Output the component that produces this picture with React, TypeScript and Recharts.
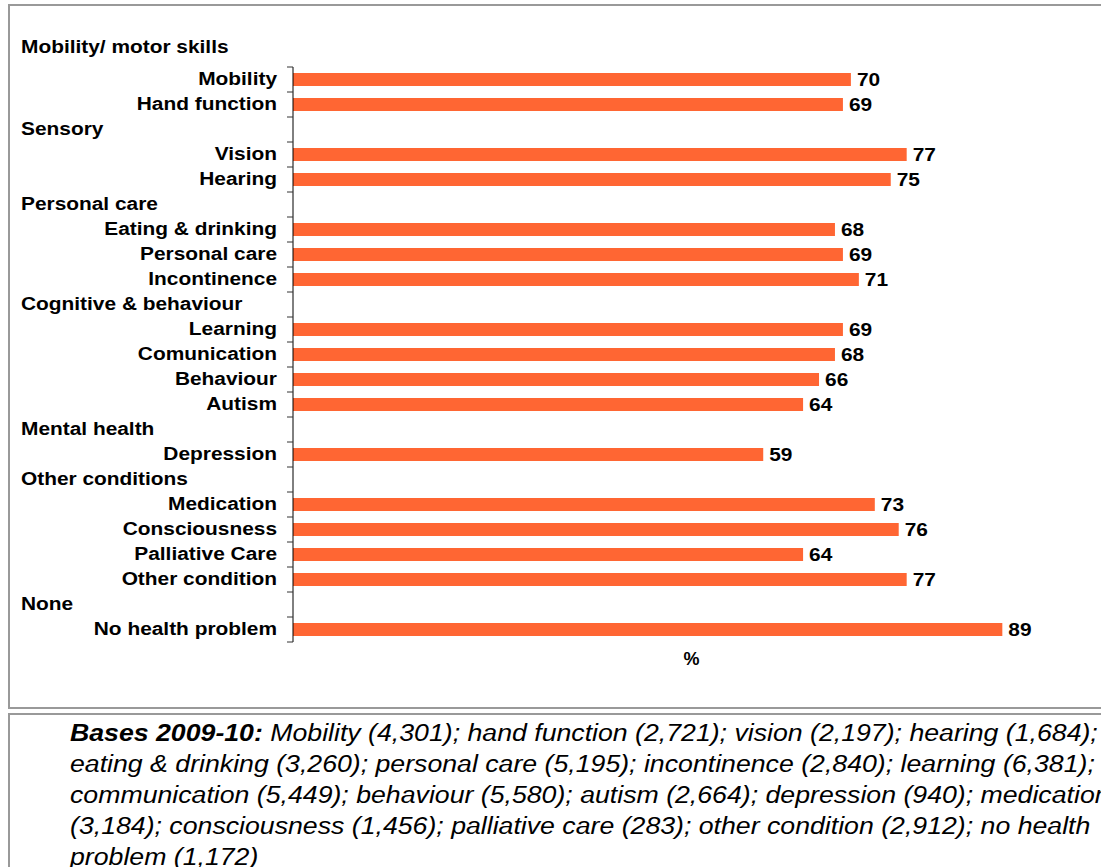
import { BarChart, Bar, XAxis, YAxis, LabelList } from "recharts";

const topHeader = "Mobility/ motor skills";

// one row per band on the axis; rows with a null value are the group headings
const labels = [
  "Mobility",
  "Hand function",
  "Sensory",
  "Vision",
  "Hearing",
  "Personal care",
  "Eating & drinking",
  "Personal care",
  "Incontinence",
  "Cognitive & behaviour",
  "Learning",
  "Comunication",
  "Behaviour",
  "Autism",
  "Mental health",
  "Depression",
  "Other conditions",
  "Medication",
  "Consciousness",
  "Palliative Care",
  "Other condition",
  "None",
  "No health problem",
];

const values: (number | null)[] = [
  70, 69, null, 77, 75, null, 68, 69, 71, null, 69, 68, 66, 64, null, 59, null, 73, 76, 64, 77, null, 89,
];

const footnoteLines = [
  "Mobility (4,301); hand function (2,721); vision (2,197); hearing (1,684);",
  "eating & drinking (3,260); personal care (5,195); incontinence (2,840); learning (6,381);",
  "communication (5,449); behaviour (5,580); autism (2,664); depression (940); medication",
  "(3,184); consciousness (1,456); palliative care (283); other condition (2,912); no health",
  "problem (1,172)",
];

const data = labels.map((name, i) => ({ name, value: values[i] }));

const FONT = "'Liberation Sans', Arial, sans-serif";
const AXIS_X = 285;
const STRETCH = 1.16;

function CategoryTick(props: any) {
  const { y, index } = props;
  const isHeader = values[index] == null;
  const label = labels[index];
  return (
    <g>
      <line x1={AXIS_X - 6} x2={AXIS_X} y1={y - 12.5} y2={y - 12.5} stroke="#333" />
      {index === labels.length - 1 && (
        <line x1={AXIS_X - 6} x2={AXIS_X} y1={y + 12.5} y2={y + 12.5} stroke="#333" />
      )}
      {index === 0 && (
        <text
          transform={`translate(13,${y - 33}) scale(${STRETCH},1)`}
          dy="0.36em"
          fontFamily={FONT}
          fontWeight="bold"
          fontSize={18}
          fill="#000"
        >
          {topHeader}
        </text>
      )}
      {isHeader ? (
        <text
          transform={`translate(13,${y - 1}) scale(${STRETCH},1)`}
          dy="0.36em"
          fontFamily={FONT}
          fontWeight="bold"
          fontSize={18}
          fill="#000"
        >
          {label}
        </text>
      ) : (
        <text
          transform={`translate(269,${y - 1}) scale(${STRETCH},1)`}
          dy="0.36em"
          textAnchor="end"
          fontFamily={FONT}
          fontWeight="bold"
          fontSize={18}
          fill="#000"
        >
          {label}
        </text>
      )}
    </g>
  );
}

function ValueLabel(props: any) {
  const { x, y, width, height, value } = props;
  if (value == null) return null;
  return (
    <text
      transform={`translate(${x + width + 6},${y + height / 2}) scale(${STRETCH},1)`}
      dy="0.36em"
      fontFamily={FONT}
      fontWeight="bold"
      fontSize={18}
      fill="#000"
    >
      {value}
    </text>
  );
}

export default function App() {
  return (
    <div
      style={{
        position: "fixed",
        left: 8,
        top: 4,
        width: 1093,
        height: 863,
        overflow: "hidden",
        fontFamily: FONT,
        background: "#fff",
      }}
    >
      <div
        style={{
          position: "absolute",
          left: 0,
          top: 0,
          width: 1110,
          height: 705,
          border: "2px solid #999",
          boxSizing: "border-box",
        }}
      />
      <div
        style={{
          position: "absolute",
          left: 0,
          top: 709,
          width: 1110,
          height: 200,
          border: "2px solid #999",
          boxSizing: "border-box",
        }}
      />
      <div style={{ position: "absolute", left: 0, top: 0 }}>
        <BarChart
          width={1100}
          height={700}
          data={data}
          layout="vertical"
          margin={{ top: 63, right: 18, left: 0, bottom: 22 }}
          barSize={13}
        >
          <XAxis
            type="number"
            domain={[0, 100]}
            axisLine={false}
            tickLine={false}
            tick={false}
            height={40}
            label={{
              value: "%",
              position: "insideTop",
              offset: 10,
              fontFamily: FONT,
              fontWeight: "bold",
              fontSize: 18,
              fill: "#000",
            }}
          />
          <YAxis
            type="category"
            dataKey="name"
            width={AXIS_X}
            axisLine={{ stroke: "#000" }}
            tickLine={false}
            interval={0}
            tick={<CategoryTick />}
          />
          <Bar dataKey="value" fill="#FF6633" isAnimationActive={false}>
            <LabelList dataKey="value" content={<ValueLabel />} />
          </Bar>
        </BarChart>
      </div>
      <div
        style={{
          position: "absolute",
          left: 62,
          top: 713.5,
          fontSize: 23,
          lineHeight: "31px",
          fontStyle: "italic",
          color: "#000",
          whiteSpace: "nowrap",
          transform: `scaleX(${STRETCH})`,
          transformOrigin: "left top",
        }}
      >
        {footnoteLines.map((line, i) => (
          <div key={i}>
            {i === 0 && <b>Bases 2009-10: </b>}
            {line}
          </div>
        ))}
      </div>
    </div>
  );
}
